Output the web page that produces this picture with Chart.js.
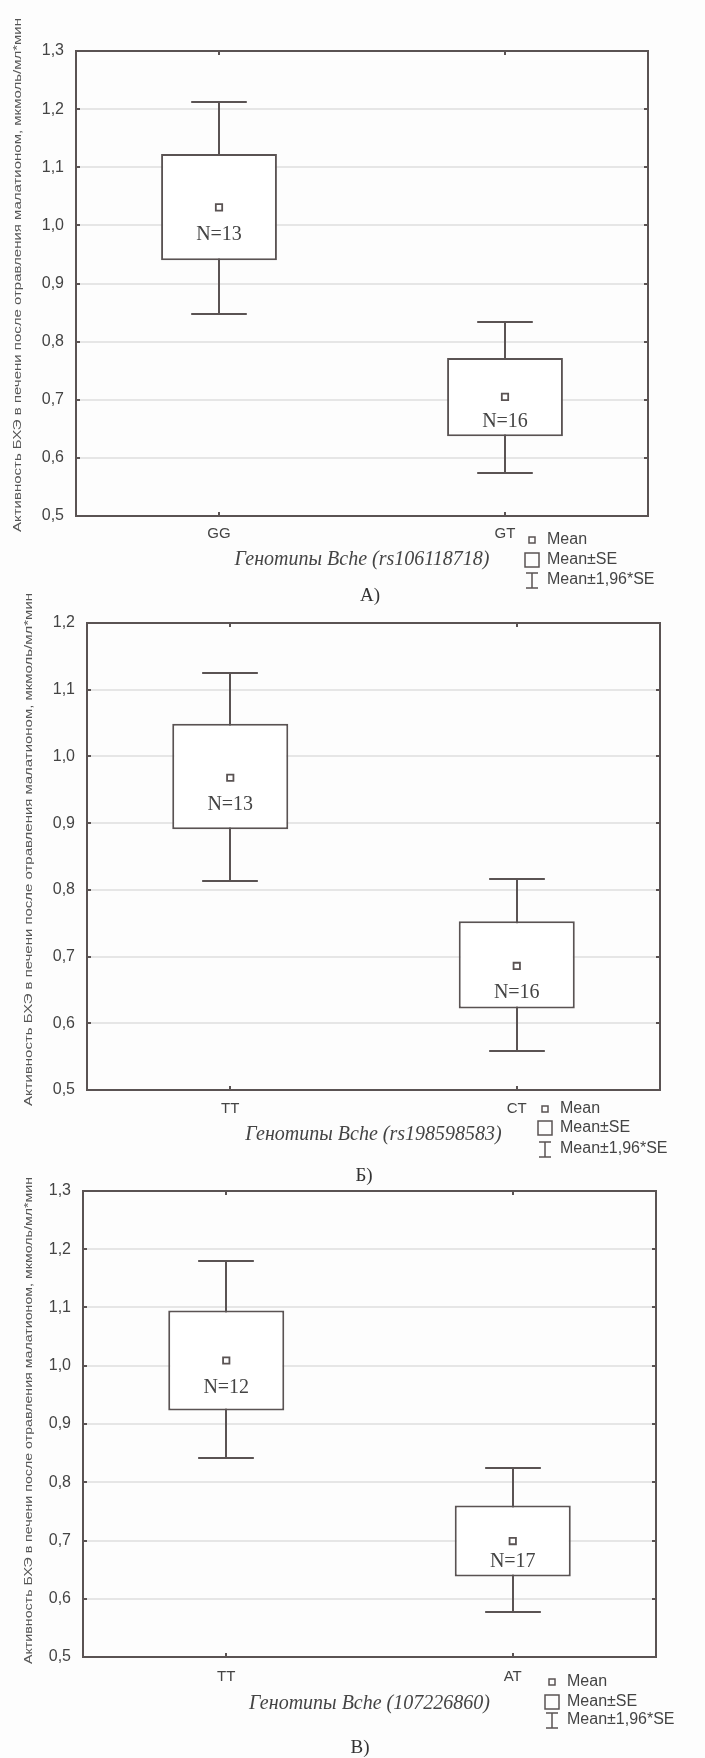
<!DOCTYPE html>
<html>
<head>
<meta charset="utf-8">
<script src="https://cdn.jsdelivr.net/npm/chart.js@4.4.0/dist/chart.umd.min.js"></script>
<style>
html, body { margin: 0; padding: 0; background: #fdfdfd; }
#page { position: relative; width: 705px; height: 1758px; overflow: hidden; }
canvas { position: absolute; left: 0; }
.cap { position: absolute; font: 19px "Liberation Serif", serif; color: #333; transform: translate(-50%, -50%); white-space: nowrap; }
</style>
</head>
<body>
<div id="page">
  <canvas id="chartA" width="705" height="600" style="top:0"></canvas>
  <canvas id="chartB" width="705" height="580" style="top:580px"></canvas>
  <canvas id="chartC" width="705" height="598" style="top:1160px"></canvas>
  <div class="cap" style="left:370px;top:595px">А)</div>
  <div class="cap" style="left:364px;top:1175px">Б)</div>
  <div class="cap" style="left:360px;top:1747px">В)</div>
</div>
<script>
// Chart А (rs106118718)
var genotypesA = ['GG', 'GT'];
var meanA = [1.031, 0.705];
var seLowA = [0.940, 0.637];
var seHighA = [1.123, 0.772];
var ciLowA = [0.848, 0.574];
var ciHighA = [1.212, 0.834];
var countA = [13, 16];

// Chart Б (rs198598583)
var genotypesB = ['TT', 'CT'];
var meanB = [0.968, 0.686];
var seLowB = [0.891, 0.622];
var seHighB = [1.049, 0.753];
var ciLowB = [0.813, 0.559];
var ciHighB = [1.125, 0.817];
var countB = [13, 16];

// Chart В (107226860)
var genotypesC = ['TT', 'AT'];
var meanC = [1.009, 0.699];
var seLowC = [0.923, 0.638];
var seHighC = [1.095, 0.760];
var ciLowC = [0.842, 0.577];
var ciHighC = [1.179, 0.824];
var countC = [12, 17];

var legendLabels = ['Mean', 'Mean±SE', 'Mean±1,96*SE'];
var yTitle = 'Активность БХЭ в печени после отравления малатионом, мкмоль/мл*мин';

var LINE = '#5a5353';
var TEXT = '#444';
var GRID = '#e6e6e6';
var SANS = '"Liberation Sans", Arial, sans-serif';
var SERIF = '"Liberation Serif", "Times New Roman", serif';

/**
 * Frame round the plot area with small inner tick marks.
 */
var framePlugin = {
    id: 'frame',
    beforeDatasetsDraw: function(chart) {
        var ctx = chart.ctx;
        var a = chart.chartArea;
        ctx.save();
        ctx.strokeStyle = LINE;
        ctx.lineWidth = 2;
        ctx.strokeRect(a.left, a.top, a.right - a.left, a.bottom - a.top);
        ctx.beginPath();
        chart.scales.y.ticks.forEach(function(t) {
            var py = Math.round(chart.scales.y.getPixelForValue(t.value));
            ctx.moveTo(a.left, py);
            ctx.lineTo(a.left + 4, py);
            ctx.moveTo(a.right, py);
            ctx.lineTo(a.right - 4, py);
        });
        chart.scales.x.ticks.forEach(function(t, i) {
            var px = Math.round(chart.scales.x.getPixelForValue(i));
            ctx.moveTo(px, a.top);
            ctx.lineTo(px, a.top + 4);
            ctx.moveTo(px, a.bottom);
            ctx.lineTo(px, a.bottom - 4);
        });
        ctx.stroke();
        ctx.restore();
    }
};

/**
 * Whiskers (Mean±1,96*SE) drawn under the boxes.
 */
var errorBarPlugin = {
    id: 'errorBars',
    beforeDatasetsDraw: function(chart, args, opts) {
        var ctx = chart.ctx;
        var xs = chart.scales.x;
        var ys = chart.scales.y;
        // dataset 1 holds the SE boxes
        var bars = chart.getDatasetMeta(1).data;
        ctx.save();
        ctx.strokeStyle = LINE;
        ctx.lineWidth = 2;
        opts.low.forEach(function(lo, i) {
            var cx = Math.round(xs.getPixelForValue(i));
            var half = bars[i].width * 0.24;
            var yl = Math.round(ys.getPixelForValue(lo));
            var yh = Math.round(ys.getPixelForValue(opts.high[i]));
            ctx.beginPath();
            ctx.moveTo(cx, yl);
            ctx.lineTo(cx, yh);
            ctx.moveTo(cx - half, yl);
            ctx.lineTo(cx + half, yl);
            ctx.moveTo(cx - half, yh);
            ctx.lineTo(cx + half, yh);
            ctx.stroke();
        });
        ctx.restore();
    }
};

/**
 * N= labels, legend and the rotated y title.
 */
var notesPlugin = {
    id: 'notes',
    afterDatasetsDraw: function(chart, args, opts) {
        var ctx = chart.ctx;
        var xs = chart.scales.x;
        var ys = chart.scales.y;
        ctx.save();

        // N labels under the mean marker
        ctx.fillStyle = TEXT;
        ctx.font = '20px ' + SERIF;
        ctx.textAlign = 'center';
        ctx.textBaseline = 'middle';
        opts.counts.forEach(function(n, i) {
            var cx = xs.getPixelForValue(i);
            var yMean = ys.getPixelForValue(opts.means[i]);
            var yBox = ys.getPixelForValue(opts.boxLow[i]);
            ctx.fillText('N=' + n, cx, Math.min(yMean + 27, yBox - 15));
        });

        // legend
        var lx = opts.legendX;
        var ly = opts.legendY;
        ctx.strokeStyle = LINE;
        ctx.lineWidth = 1.5;
        ctx.strokeRect(lx - 3, ly[0] - 3, 6, 6);
        ctx.strokeRect(lx - 7, ly[1] - 7, 14, 14);
        ctx.beginPath();
        ctx.moveTo(lx - 6, ly[2] - 7);
        ctx.lineTo(lx + 6, ly[2] - 7);
        ctx.moveTo(lx, ly[2] - 7);
        ctx.lineTo(lx, ly[2] + 8);
        ctx.moveTo(lx - 6, ly[2] + 8);
        ctx.lineTo(lx + 6, ly[2] + 8);
        ctx.stroke();
        ctx.font = '16px ' + SANS;
        ctx.textAlign = 'left';
        legendLabels.forEach(function(t, i) {
            ctx.fillText(t, lx + 15, ly[i]);
        });

        // y title, stretched to the length it has in the reference
        ctx.font = '11px ' + SANS;
        ctx.fillStyle = '#555';
        ctx.textAlign = 'center';
        var w = ctx.measureText(yTitle).width;
        var len = opts.titleY1 - opts.titleY0;
        ctx.translate(opts.titleX, (opts.titleY0 + opts.titleY1) / 2);
        ctx.rotate(-Math.PI / 2);
        ctx.scale(len / w, 1);
        ctx.fillText(yTitle, 0, 0);
        ctx.restore();
    }
};

/**
 * Build one chart.
 * @param {string} id canvas id
 * @param {Object} c data and layout of the chart
 * @returns {Object} chart object
 */
function makeChart(id, c) {
    return new Chart(document.getElementById(id), {
        type: 'bar',
        data: {
            labels: c.labels,
            datasets: [{
                type: 'line',
                label: 'Mean',
                data: c.means,
                showLine: false,
                pointStyle: 'rect',
                pointRadius: 4.5,
                pointBackgroundColor: '#fff',
                pointBorderColor: LINE,
                pointBorderWidth: 1.8,
                order: 1
            }, {
                type: 'bar',
                label: 'Mean±SE',
                data: c.boxLow.map(function(v, i) {
                    return [v, c.boxHigh[i]];
                }),
                backgroundColor: '#fff',
                borderColor: LINE,
                borderWidth: 2,
                borderSkipped: false,
                barPercentage: 0.405,
                categoryPercentage: 1,
                order: 2
            }]
        },
        plugins: [framePlugin, errorBarPlugin, notesPlugin],
        options: {
            responsive: false,
            devicePixelRatio: 1,
            animation: false,
            events: [],
            layout: {
                padding: {top: c.padTop, right: c.padRight, bottom: c.padBottom, left: 0}
            },
            scales: {
                x: {
                    offset: true,
                    grid: {display: false, drawTicks: false},
                    border: {display: false},
                    ticks: {
                        padding: c.xTickPad,
                        color: TEXT,
                        font: {family: SANS, size: 15}
                    },
                    title: {
                        display: true,
                        text: c.xTitle,
                        color: TEXT,
                        padding: 0,
                        font: {family: SERIF, size: 20, style: 'italic'}
                    },
                    afterFit: function(s) {
                        s.height = c.xHeight;
                    }
                },
                y: {
                    min: 0.5,
                    max: c.yMax,
                    grid: {color: GRID, lineWidth: 2, drawTicks: false},
                    border: {display: false},
                    ticks: {
                        stepSize: 0.1,
                        padding: 12,
                        color: TEXT,
                        font: {family: SANS, size: 16},
                        callback: function(v) {
                            return v.toFixed(1).replace('.', ',');
                        }
                    },
                    afterFit: function(s) {
                        s.width = c.left;
                    }
                }
            },
            plugins: {
                legend: {display: false},
                tooltip: {enabled: false},
                errorBars: {low: c.ciLow, high: c.ciHigh},
                notes: {
                    counts: c.counts,
                    means: c.means,
                    boxLow: c.boxLow,
                    legendX: c.legendX,
                    legendY: c.legendY,
                    titleX: c.titleX,
                    titleY0: c.titleY0,
                    titleY1: c.titleY1
                }
            }
        }
    });
}

makeChart('chartA', {
    labels: genotypesA, means: meanA, boxLow: seLowA, boxHigh: seHighA,
    ciLow: ciLowA, ciHigh: ciHighA, counts: countA, yMax: 1.3,
    xTitle: 'Генотипы Bche (rs106118718)',
    padTop: 51, padRight: 57, padBottom: 28, left: 76, xHeight: 56, xTickPad: 9,
    legendX: 532, legendY: [540, 560, 580],
    titleX: 18, titleY0: 18, titleY1: 532
});

makeChart('chartB', {
    labels: genotypesB, means: meanB, boxLow: seLowB, boxHigh: seHighB,
    ciLow: ciLowB, ciHigh: ciHighB, counts: countB, yMax: 1.2,
    xTitle: 'Генотипы Bche (rs198598583)',
    padTop: 43, padRight: 45, padBottom: 13, left: 87, xHeight: 57, xTickPad: 10,
    legendX: 545, legendY: [529, 548, 569],
    titleX: 29, titleY0: 13, titleY1: 526
});

makeChart('chartC', {
    labels: genotypesC, means: meanC, boxLow: seLowC, boxHigh: seHighC,
    ciLow: ciLowC, ciHigh: ciHighC, counts: countC, yMax: 1.3,
    xTitle: 'Генотипы Bche (107226860)',
    padTop: 31, padRight: 49, padBottom: 42, left: 83, xHeight: 59, xTickPad: 11,
    legendX: 552, legendY: [522, 542, 560],
    titleX: 29, titleY0: 17, titleY1: 504
});
</script>
</body>
</html>
